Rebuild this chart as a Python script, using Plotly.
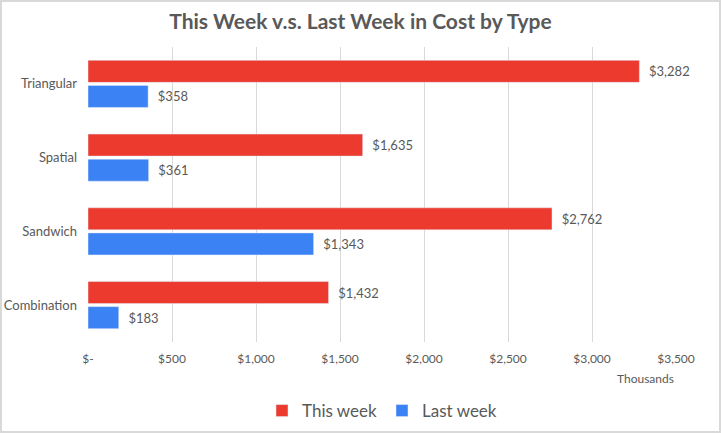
import plotly.graph_objects as go

categories = ["Combination", "Sandwich", "Spatial", "Triangular"]
this_week = [1432, 2762, 1635, 3282]
last_week = [183, 1343, 361, 358]
tick_vals = [0, 500, 1000, 1500, 2000, 2500, 3000, 3500]
tick_text = ["$-", "$500", "$1,000", "$1,500", "$2,000", "$2,500", "$3,000", "$3,500"]

FONT = "Lato, 'Open Sans', sans-serif"
GRAY = "#595959"

fig = go.Figure()
fig.add_trace(go.Bar(
    y=categories, x=last_week, orientation="h", name="Last week",
    marker=dict(color="#3B82F4"),
    text=["  $" + format(v, ",") for v in last_week], textposition="outside",
    textfont=dict(size=13, color=GRAY, family=FONT), cliponaxis=False,
))
fig.add_trace(go.Bar(
    y=categories, x=this_week, orientation="h", name="This week",
    marker=dict(color="#EC3A2F"),
    text=["  $" + format(v, ",") for v in this_week], textposition="outside",
    textfont=dict(size=13, color=GRAY, family=FONT), cliponaxis=False,
))

L, R, T, B = 88, 45, 47, 91
W, H = 721, 433
pw, ph = W - L - R, H - T - B

fig.update_layout(
    width=W, height=H,
    margin=dict(l=L, r=R, t=T, b=B, autoexpand=False),
    paper_bgcolor="white", plot_bgcolor="white",
    barmode="group", bargap=0.32, bargroupgap=0.12,
    font=dict(family=FONT, color=GRAY, size=13),
    title=dict(text="<b>This Week v.s. Last Week in Cost by Type</b>",
               x=0.5, xanchor="center", y=1 - 22 / H, yanchor="middle",
               font=dict(size=21, color=GRAY, family=FONT)),
    xaxis=dict(range=[0, 3500], tickvals=tick_vals, ticktext=tick_text,
               showgrid=True, gridcolor="#d9d9d9", gridwidth=1,
               zeroline=False, showline=False, ticks="", automargin=False,
               ticklabelstandoff=8,
               tickfont=dict(size=12, color=GRAY)),
    yaxis=dict(categoryorder="array", categoryarray=categories,
               showgrid=False, zeroline=False, showline=False,
               ticks="", ticklabelstandoff=10, automargin=False,
               tickfont=dict(size=13, color=GRAY)),
    legend=dict(orientation="h", x=0.5, xanchor="center",
                y=-(411 - (T + ph)) / ph, yanchor="middle",
                traceorder="reversed", itemwidth=30,
                font=dict(size=17, color=GRAY)),
    showlegend=True,
)

fig.add_annotation(text="Thousands", xref="x", x=3500, xanchor="right",
                   yref="paper", y=-(378 - (T + ph)) / ph, yanchor="middle",
                   showarrow=False, font=dict(size=12, color=GRAY))

fig.add_shape(type="rect", xref="paper", yref="paper",
              x0=-(L - 1) / pw, x1=1 + (R - 1) / pw,
              y0=-(B - 1) / ph, y1=1 + (T - 1) / ph,
              line=dict(color="#d9d9d9", width=2), layer="below")

fig.write_html("out.html", config={"displayModeBar": False},
               post_script="document.body.style.margin='0';document.body.style.overflow='hidden';")
